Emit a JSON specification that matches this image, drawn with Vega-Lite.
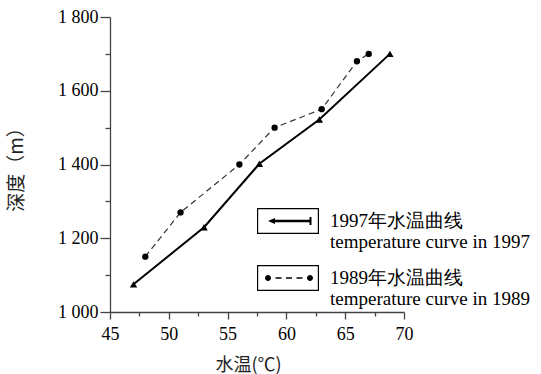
{
  "$schema": "https://vega.github.io/schema/vega-lite/v6.json",
  "width": 294,
  "height": 295,
  "autosize": {"type": "none"},
  "padding": {"left": 110, "top": 17, "right": 137, "bottom": 62},
  "background": "white",
  "config": {"view": {"stroke": null}, "font": "Liberation Serif"},
  "data": {
    "values": [
      {"series": "1997", "temp": 47, "depth": 1075},
      {"series": "1997", "temp": 53, "depth": 1230},
      {"series": "1997", "temp": 57.7, "depth": 1402},
      {"series": "1997", "temp": 62.8, "depth": 1522},
      {"series": "1997", "temp": 68.8, "depth": 1700},
      {"series": "1989", "temp": 48, "depth": 1150},
      {"series": "1989", "temp": 51, "depth": 1270},
      {"series": "1989", "temp": 56, "depth": 1400},
      {"series": "1989", "temp": 59, "depth": 1500},
      {"series": "1989", "temp": 63, "depth": 1550},
      {"series": "1989", "temp": 66, "depth": 1680},
      {"series": "1989", "temp": 67, "depth": 1700}
    ]
  },
  "encoding": {
    "x": {
      "field": "temp",
      "type": "quantitative",
      "scale": {"domain": [45, 70], "nice": false, "zero": false},
      "axis": {
        "title": "水温(℃)",
        "titleX": 138,
        "values": [45, 47.5, 50, 52.5, 55, 57.5, 60, 62.5, 65, 67.5, 70],
        "labelExpr": "datum.value % 5 === 0 ? datum.label : ''",
        "tickSize": {"condition": {"test": "datum.value % 5 === 0", "value": 7}, "value": 4},
        "grid": false,
        "domainColor": "#444",
        "tickColor": "#444",
        "domainWidth": 1.3,
        "tickWidth": 1.3,
        "labelFont": "Liberation Serif",
        "labelFontSize": 18,
        "labelColor": "black",
        "labelPadding": 6,
        "labelFlush": false,
        "titleFont": "Noto Sans CJK SC",
        "titleFontSize": 18,
        "titleFontWeight": "normal",
        "titleColor": "#222",
        "titlePadding": 13
      }
    },
    "y": {
      "field": "depth",
      "type": "quantitative",
      "scale": {"domain": [1000, 1800], "nice": false, "zero": false},
      "axis": {
        "title": "深度（m）",
        "values": [1000, 1100, 1200, 1300, 1400, 1500, 1600, 1700, 1800],
        "labelExpr": "datum.value % 200 === 0 ? replace(format(datum.value, ','), ',', ' ') : ''",
        "tickSize": {"condition": {"test": "datum.value % 200 === 0", "value": 10}, "value": 5},
        "grid": false,
        "domainColor": "#444",
        "tickColor": "#444",
        "domainWidth": 1.3,
        "tickWidth": 1.3,
        "labelFont": "Liberation Serif",
        "labelFontSize": 18,
        "labelColor": "black",
        "labelPadding": 2,
        "titleFont": "Noto Sans CJK SC",
        "titleFontSize": 19,
        "titleFontWeight": "normal",
        "titleColor": "#222",
        "titlePadding": 31
      }
    }
  },
  "layer": [
    {
      "transform": [{"filter": "datum.series === '1997'"}],
      "mark": {"type": "line", "color": "black", "strokeWidth": 2}
    },
    {
      "transform": [{"filter": "datum.series === '1997'"}],
      "mark": {"type": "point", "shape": "triangle-up", "filled": true, "color": "black", "size": 55, "opacity": 1}
    },
    {
      "transform": [{"filter": "datum.series === '1989'"}],
      "mark": {"type": "line", "color": "#333", "strokeWidth": 1.2, "strokeDash": [6, 4]}
    },
    {
      "transform": [{"filter": "datum.series === '1989'"}],
      "mark": {"type": "point", "shape": "circle", "filled": true, "color": "black", "size": 40, "opacity": 1}
    },
    {
      "transform": [{"filter": "datum.temp < 50"}],
      "mark": {"type": "point", "filled": true, "opacity": 0, "color": "black"},
      "encoding": {
        "shape": {
          "field": "series",
          "type": "nominal",
          "scale": {
            "domain": ["1997", "1989"],
            "range": [
              "M-1.409,-0.591L1.409,-0.591L1.409,0.591L-1.409,0.591ZM-1.355,-0.536L-1.355,0.536L1.355,0.536L1.355,-0.536ZM-0.909,0L-0.591,-0.136L-0.591,0.136ZM-0.6,-0.055L1.068,-0.055L1.068,0.055L-0.6,0.055ZM0.977,-0.182L1.068,-0.182L1.068,0.182L0.977,0.182Z",
              "M-1.409,-0.591L1.409,-0.591L1.409,0.591L-1.409,0.591ZM-1.355,-0.536L-1.355,0.536L1.355,0.536L1.355,-0.536ZM-1.045,0A0.136,0.136,0,1,0,-0.773,0A0.136,0.136,0,1,0,-1.045,0ZM0.864,0A0.136,0.136,0,1,0,1.136,0A0.136,0.136,0,1,0,0.864,0ZM-0.568,-0.032L-0.295,-0.032L-0.295,0.032L-0.568,0.032ZM-0.091,-0.032L0.182,-0.032L0.182,0.032L-0.091,0.032ZM0.386,-0.032L0.659,-0.032L0.659,0.032L0.386,0.032Z"
            ]
          },
          "legend": {
            "orient": "none",
            "legendX": 156,
            "legendY": 182,
            "title": null,
            "labelExpr": "datum.label === '1997' ? ['1997年水温曲线', 'temperature curve in 1997'] : ['1989年水温曲线', 'temperature curve in 1989']",
            "labelFont": "Liberation Serif",
            "labelFontSize": 19,
            "labelColor": "black",
            "labelLimit": 300,
            "symbolSize": 1936,
            "symbolFillColor": "black",
            "symbolStrokeWidth": 0,
            "symbolOpacity": 1,
            "labelOffset": 20,
            "rowPadding": 4,
            "encode": {
              "labels": {
                "enter": {"lineHeight": {"value": 19}, "dy": {"value": -5}},
                "update": {"lineHeight": {"value": 19}, "dy": {"value": -5}}
              }
            }
          }
        }
      }
    }
  ]
}
